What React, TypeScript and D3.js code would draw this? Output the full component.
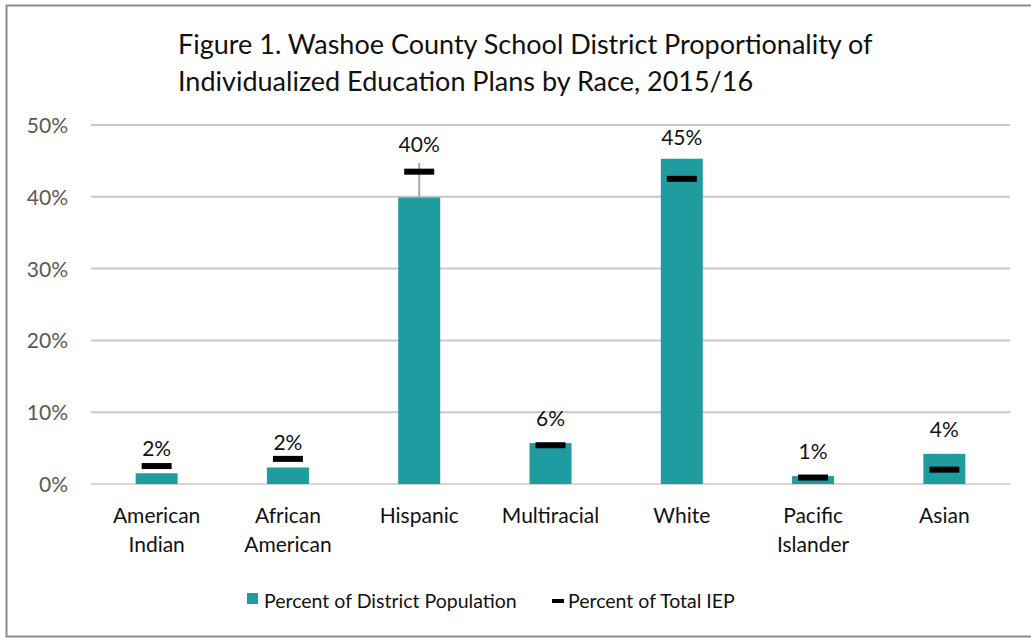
import React, { useEffect, useRef } from 'react'
import * as d3 from 'd3'

const categories = ['American Indian', 'African American', 'Hispanic', 'Multiracial', 'White', 'Pacific Islander', 'Asian']
const districtPct = [1.5, 2.3, 39.9, 5.7, 45.3, 1.1, 4.2]
const iepPct = [2.5, 3.5, 43.5, 5.4, 42.5, 0.9, 2.0]
const errorPlus = [0, 0, 4.8, 0, 0, 0, 0]
const barLabels = ['2%', '2%', '40%', '6%', '45%', '1%', '4%']
const yTicks = [0, 10, 20, 30, 40, 50]
const titleLines = [
  'Figure 1. Washoe County School District Proportionality of',
  'Individualized Education Plans by Race, 2015/16',
]

const W = 1031
const H = 639
const FONT = 'Lato, "Open Sans", sans-serif'
const TEAL = '#1F9C9F'

export default function App() {
  const ref = useRef<SVGSVGElement>(null)

  useEffect(() => {
    const svg = d3.select(ref.current)
    svg.selectAll('*').remove()

    const m = { left: 91, right: 1010, top: 125, bottom: 484 }

    // frame (right edge runs off the picture)
    svg.append('rect')
      .attr('x', 6.5).attr('y', 5.5)
      .attr('width', W + 10).attr('height', 631)
      .attr('fill', 'white').attr('stroke', '#8c8c8c').attr('stroke-width', 2)

    const x = d3.scaleBand().domain(categories).range([m.left, m.right])
    const y = d3.scaleLinear().domain([0, 50]).range([m.bottom, m.top])

    // title
    svg.append('g').selectAll('text').data(titleLines).enter().append('text')
      .attr('x', 178).attr('y', (d, i) => 54 + i * 37)
      .attr('font-family', FONT).attr('font-size', 27).attr('fill', '#111')
      .text(d => d)

    // gridlines
    svg.append('g').selectAll('line').data(yTicks).enter().append('line')
      .attr('x1', m.left).attr('x2', m.right)
      .attr('y1', d => y(d)).attr('y2', d => y(d))
      .attr('stroke', d => d === 0 ? '#d6d6d6' : '#c8c8c8').attr('stroke-width', 2)

    // y tick labels
    svg.append('g').selectAll('text').data(yTicks).enter().append('text')
      .attr('x', 68).attr('y', d => y(d) + 8)
      .attr('text-anchor', 'end')
      .attr('font-family', FONT).attr('font-size', 21).attr('fill', '#595959')
      .text(d => d + '%')

    const bw = 42
    const cx = (c: string) => (x(c) as number) + x.bandwidth() / 2

    // bars
    svg.append('g').selectAll('rect').data(categories).enter().append('rect')
      .attr('x', d => cx(d) - bw / 2)
      .attr('y', (d, i) => y(districtPct[i]))
      .attr('width', bw)
      .attr('height', (d, i) => y(0) - y(districtPct[i]))
      .attr('fill', TEAL)

    // error bars (plus only)
    svg.append('g').selectAll('line').data(categories).enter()
      .filter((d, i) => errorPlus[i] > 0)
      .append('line')
      .attr('x1', d => cx(d)).attr('x2', d => cx(d))
      .attr('y1', d => y(districtPct[categories.indexOf(d)]))
      .attr('y2', d => { const i = categories.indexOf(d); return y(districtPct[i] + errorPlus[i]) })
      .attr('stroke', '#a6a6a6').attr('stroke-width', 2)

    // IEP markers
    svg.append('g').selectAll('rect').data(categories).enter().append('rect')
      .attr('x', d => cx(d) - 15)
      .attr('y', (d, i) => y(iepPct[i]) - 3)
      .attr('width', 30).attr('height', 6)
      .attr('fill', '#000')

    // value labels
    svg.append('g').selectAll('text').data(categories).enter().append('text')
      .attr('x', d => cx(d))
      .attr('y', (d, i) => {
        const top = Math.max(y(districtPct[i]) - 17, 145)
        if (errorPlus[i] > 0) return Math.min(top, y(districtPct[i] + errorPlus[i]) - 11)
        return top
      })
      .attr('text-anchor', 'middle')
      .attr('font-family', FONT).attr('font-size', 21).attr('fill', '#111')
      .text((d, i) => barLabels[i])

    // category labels
    const cat = svg.append('g').selectAll('text').data(categories).enter().append('text')
      .attr('x', d => cx(d))
      .attr('y', 523)
      .attr('text-anchor', 'middle')
      .attr('font-family', FONT).attr('font-size', 21).attr('fill', '#111')
    cat.each(function (d) {
      const t = d3.select(this)
      d.split(' ').forEach((w, i) => {
        t.append('tspan').attr('x', cx(d)).attr('dy', i === 0 ? 0 : 29).text(w)
      })
    })

    // legend
    const lg = svg.append('g')
    lg.append('rect').attr('x', 247).attr('y', 593).attr('width', 11).attr('height', 11).attr('fill', TEAL)
    lg.append('text').attr('x', 264).attr('y', 608)
      .attr('font-family', FONT).attr('font-size', 19.5).attr('fill', '#111')
      .text('Percent of District Population')
    lg.append('rect').attr('x', 552).attr('y', 599).attr('width', 12).attr('height', 4).attr('fill', '#000')
    lg.append('text').attr('x', 568).attr('y', 608)
      .attr('font-family', FONT).attr('font-size', 19.5).attr('fill', '#111')
      .text('Percent of Total IEP')
  }, [])

  return (
    <svg ref={ref} width={W} height={H} style={{ position: 'absolute', left: 0, top: 0, background: 'white' }} />
  )
}
